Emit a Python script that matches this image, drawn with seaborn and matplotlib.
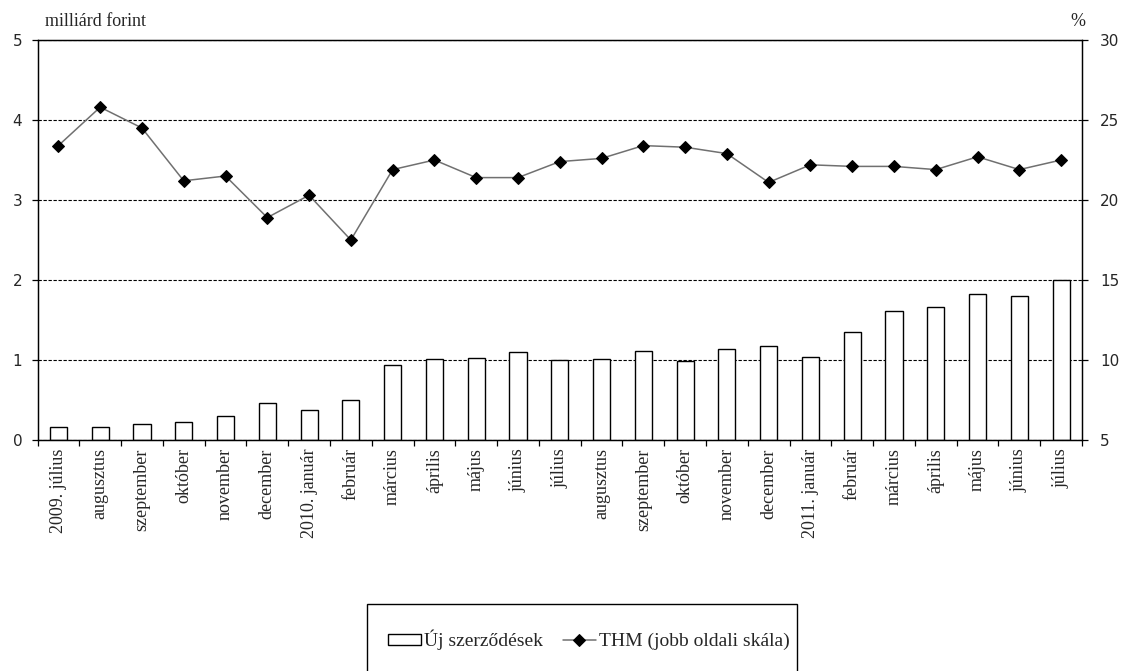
import matplotlib
matplotlib.use("Agg")
import matplotlib.pyplot as plt
from matplotlib.patches import Rectangle
import numpy as np
import pandas as pd
import seaborn as sns

months = [
    "2009. július", "augusztus", "szeptember", "október", "november", "december",
    "2010. január", "február", "március", "április", "május", "június", "július",
    "augusztus", "szeptember", "október", "november", "december",
    "2011. január", "február", "március", "április", "május", "június", "július",
]
new_contracts = [0.16, 0.16, 0.20, 0.23, 0.30, 0.46, 0.38, 0.50, 0.94, 1.01, 1.03, 1.10, 1.00,
                 1.01, 1.11, 0.99, 1.14, 1.17, 1.04, 1.35, 1.61, 1.66, 1.83, 1.80, 2.00]
thm = [23.4, 25.8, 24.5, 21.2, 21.5, 18.9, 20.3, 17.5, 21.9, 22.5, 21.4, 21.4, 22.4,
       22.6, 23.4, 23.3, 22.9, 21.1, 22.2, 22.1, 22.1, 21.9, 22.7, 21.9, 22.5]
left_ticks = [0, 1, 2, 3, 4, 5]
right_ticks = [5, 10, 15, 20, 25, 30]

W, H = 1121, 671

sns.set_style("ticks")
plt.rcParams["font.family"] = ["Liberation Serif", "DejaVu Serif"]

df = pd.DataFrame({"pos": np.arange(len(months)), "contracts": new_contracts, "thm": thm})

fig = plt.figure(figsize=(W / 100, H / 100), dpi=100)
ax = fig.add_axes([37.5 / W, 1 - 440 / H, (1082 - 37.5) / W, 400 / H])

sns.barplot(data=df, x="pos", y="contracts", ax=ax, color="white", edgecolor="black",
            linewidth=1.0, width=0.41, saturation=1, label="Új szerződések")
if ax.get_legend() is not None:
    ax.get_legend().remove()
ax.set_xlim(-0.5, len(months) - 0.5)
ax.set_ylim(0, 5)
ax.set_yticks(left_ticks)
ax.set_axisbelow(True)
ax.yaxis.grid(True, linestyle=(0, (3, 1.5)), color="black", linewidth=0.8)
ax.set_xlabel("")
ax.set_ylabel("")

ax.set_xticks(df["pos"])
ax.set_xticklabels(months, rotation=90, ha="center", va="top", fontsize=13)
ax.set_xticks(np.arange(-0.5, len(months), 1), minor=True)
ax.tick_params(axis="x", which="major", length=0, pad=6)
ax.tick_params(axis="x", which="minor", length=4, width=0.9, color="black", direction="out")
ax.tick_params(axis="y", length=4, width=0.9, color="black", direction="out", pad=7,
               labelsize=11, labelfontfamily="DejaVu Sans")

ax2 = ax.twinx()
sns.lineplot(data=df, x="pos", y="thm", ax=ax2, color="#707070", linewidth=1.1,
             marker="D", markersize=6, markerfacecolor="black", markeredgecolor="black",
             label="THM (jobb oldali skála)")
ax2.set_ylim(5, 30)
ax2.set_yticks(right_ticks)
ax2.set_ylabel("")
ax2.tick_params(axis="y", length=4, width=0.9, color="black", direction="out", pad=9,
                labelsize=11, labelfontfamily="DejaVu Sans")
if ax2.get_legend() is not None:
    ax2.get_legend().remove()

for a in (ax, ax2):
    for sp in a.spines.values():
        sp.set_visible(True)
        sp.set_color("black")
        sp.set_linewidth(0.9)

fig.text(45 / W, 1 - 22 / H, "milliárd forint", ha="left", va="center", fontsize=13)
fig.text(1078 / W, 1 - 22 / H, "%", ha="center", va="center", fontsize=13)

h1, l1 = ax.get_legend_handles_labels()
h2, l2 = ax2.get_legend_handles_labels()
fig.legend(h1 + h2, l1 + l2, loc="center", bbox_to_anchor=(589 / W, 1 - 640 / H), ncol=2,
           frameon=False, fontsize=14, handlelength=1.7, handletextpad=0.15,
           columnspacing=1.0, handleheight=0.5)
fig.patches.append(Rectangle((367 / W, 1 - 710 / H), (797 - 367) / W, (710 - 604) / H,
                             transform=fig.transFigure, fill=False, edgecolor="black",
                             linewidth=1.0))

fig.savefig("out.png", dpi=100)
